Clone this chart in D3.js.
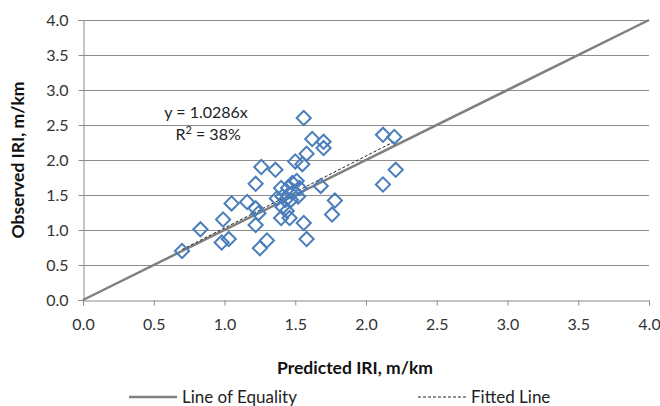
<!DOCTYPE html>
<html>
<head>
<meta charset="utf-8">
<script src="https://cdn.jsdelivr.net/npm/d3@7"></script>
<style>
  body { margin: 0; background: #fff; }
  svg { display: block; }
  text { font-family: Lato, "Open Sans", sans-serif; }
</style>
</head>
<body>
<figure id="chart" style="margin:0"></figure>
<script>
// predicted IRI (x) and observed IRI (y), m/km
const predicted = [0.70, 0.83, 0.98, 1.03, 0.99, 1.05, 1.16, 1.22, 1.22, 1.24, 1.22, 1.26, 1.36, 1.25, 1.30,
  1.40, 1.46, 1.44, 1.41, 1.43, 1.47, 1.41, 1.52, 1.49, 1.40, 1.45, 1.48, 1.51, 1.53, 1.50, 1.55, 1.56,
  1.58, 1.62, 1.70, 1.70, 1.68, 1.78, 1.76, 1.56, 1.58, 2.12, 2.20, 2.21, 2.12, 1.37];
const observed = [0.70, 1.01, 0.82, 0.87, 1.15, 1.38, 1.40, 1.31, 1.07, 1.24, 1.66, 1.90, 1.86, 0.74, 0.85,
  1.17, 1.17, 1.27, 1.33, 1.43, 1.43, 1.48, 1.48, 1.55, 1.60, 1.60, 1.67, 1.70, 1.60, 1.98, 1.94, 2.60,
  2.09, 2.30, 2.26, 2.17, 1.63, 1.42, 1.22, 1.10, 0.87, 2.36, 2.33, 1.86, 1.65, 1.45];
const ticks = [0, 0.5, 1.0, 1.5, 2.0, 2.5, 3.0, 3.5, 4.0];
const slope = 1.0286;
const rSquared = "38%";
const equality = [0, 4];
const legendLabels = ["Line of Equality", "Fitted Line"];

const width = 660, height = 406;
const margin = {top: 20, right: 11, bottom: 106, left: 83};

const x = d3.scaleLinear().domain([0, 4]).range([margin.left, width - margin.right]);
const y = d3.scaleLinear().domain([0, 4]).range([height - margin.bottom, margin.top]);

const svg = d3.select("figure#chart")
  .append("svg")
  .attr("width", width)
  .attr("height", height);

// gridlines
svg.append("g")
  .attr("stroke", "#8c8c8c")
  .attr("stroke-width", 1)
  .selectAll("line")
  .data(ticks.slice(1))
  .join("line")
    .attr("x1", margin.left)
    .attr("x2", width - margin.right)
    .attr("y1", d => Math.round(y(d)) + 0.5)
    .attr("y2", d => Math.round(y(d)) + 0.5);

const fmt = d3.format(".1f");

const xAxis = svg.append("g")
  .attr("transform", `translate(0,${Math.round(y(0)) + 0.5})`)
  .call(d3.axisBottom(x).tickValues(ticks).tickFormat(fmt).tickSize(5).tickPadding(13));
const yAxis = svg.append("g")
  .attr("transform", `translate(${Math.round(x(0)) + 0.5},0)`)
  .call(d3.axisLeft(y).tickValues(ticks).tickFormat(fmt).tickSize(5).tickPadding(10));

for (const g of [xAxis, yAxis]) {
  g.select(".domain").attr("stroke", "#8c8c8c");
  g.selectAll(".tick line").attr("stroke", "#8c8c8c");
  g.selectAll(".tick text")
    .attr("fill", "#333")
    .style("font-size", "16px");
}

// line of equality
svg.append("line")
  .attr("x1", x(equality[0])).attr("y1", y(equality[0]))
  .attr("x2", x(equality[1])).attr("y2", y(equality[1]))
  .attr("stroke", "#808080")
  .attr("stroke-width", 2.5);

// fitted line over data range
const xmin = d3.min(predicted), xmax = d3.max(predicted);
svg.append("line")
  .attr("x1", x(xmin)).attr("y1", y(slope * xmin))
  .attr("x2", x(xmax)).attr("y2", y(slope * xmax))
  .attr("stroke", "#222")
  .attr("stroke-width", 1)
  .attr("stroke-dasharray", "3,2");

// data points
const diamond = d3.symbol().type(d3.symbolSquare).size(100);
svg.append("g")
  .attr("fill", "none")
  .attr("stroke", "#4a7ebb")
  .attr("stroke-width", 2)
  .selectAll("path")
  .data(d3.zip(predicted, observed))
  .join("path")
    .attr("d", diamond)
    .attr("transform", d => `translate(${x(d[0])},${y(d[1])})rotate(45)`);

// equation text
const eqX = x(0.87);
const eq = svg.append("g")
  .attr("text-anchor", "middle")
  .attr("fill", "#222")
  .style("font-size", "16px");
eq.append("text")
  .attr("x", eqX).attr("y", y(2.6))
  .text(`y = ${slope}x`);
const r2 = eq.append("text")
  .attr("x", eqX + 2).attr("y", y(2.28));
r2.append("tspan").text("R");
r2.append("tspan").attr("dy", -6).style("font-size", "11px").text("2");
r2.append("tspan").attr("dy", 6).text(` = ${rSquared}`);

// axis titles
svg.append("text")
  .attr("transform", `translate(24,${(margin.top + height - margin.bottom) / 2})rotate(-90)`)
  .attr("text-anchor", "middle")
  .attr("font-weight", "bold")
  .attr("fill", "#111")
  .style("font-size", "17.5px")
  .text("Observed IRI, m/km");

svg.append("text")
  .attr("x", 355)
  .attr("y", 374)
  .attr("text-anchor", "middle")
  .attr("font-weight", "bold")
  .attr("fill", "#111")
  .style("font-size", "17.5px")
  .text("Predicted IRI, m/km");

// legend
const legend = svg.append("g").style("font-size", "17px").attr("fill", "#222");
legend.append("line")
  .attr("x1", 129).attr("x2", 177).attr("y1", 397).attr("y2", 397)
  .attr("stroke", "#808080").attr("stroke-width", 2.5);
legend.append("text").attr("x", 182).attr("y", 403).text(legendLabels[0]);
legend.append("line")
  .attr("x1", 418).attr("x2", 467).attr("y1", 397).attr("y2", 397)
  .attr("stroke", "#222").attr("stroke-width", 1).attr("stroke-dasharray", "3,2");
legend.append("text").attr("x", 471).attr("y", 403).text(legendLabels[1]);
</script>
</body>
</html>
